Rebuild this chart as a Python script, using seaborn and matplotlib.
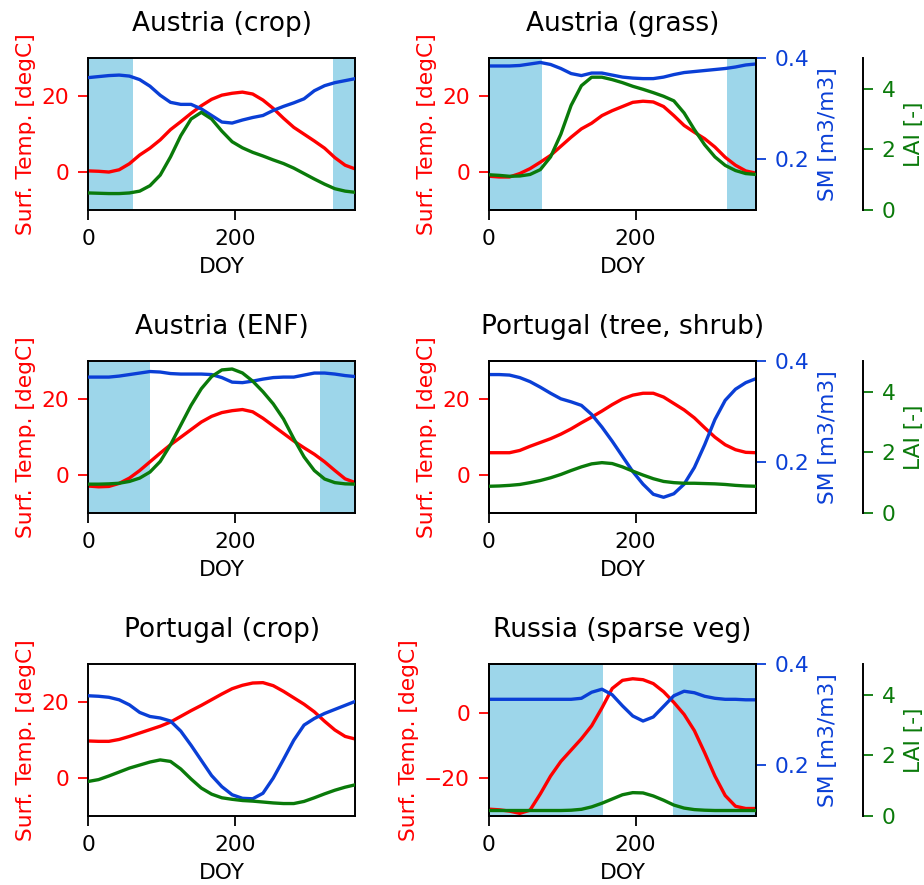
import matplotlib
matplotlib.use("Agg")
import matplotlib.pyplot as plt
import seaborn as sns
import pandas as pd

# ---------------- data ----------------
DOY = list(range(0, 365, 14))  # 0, 14, ..., 364

titles = ["Austria (crop)", "Austria (grass)", "Austria (ENF)",
          "Portugal (tree, shrub)", "Portugal (crop)", "Russia (sparse veg)"]

# Surface temperature [degC]
temp_at_crop = [0.3, 0.2, 0.0, 0.6, 2.2, 4.5, 6.3, 8.5, 11.2, 13.3, 15.5, 17.5, 19.2, 20.3,
                20.8, 21.1, 20.6, 19.0, 16.8, 14.2, 11.8, 10.0, 8.2, 6.3, 3.8, 1.8, 0.8]
temp_at_grass = [-1.1, -1.3, -1.3, -0.4, 0.9, 2.6, 4.4, 6.8, 9.2, 11.4, 12.9, 14.9, 16.2, 17.3,
                 18.4, 18.7, 18.5, 17.3, 14.9, 12.3, 10.5, 8.8, 6.6, 3.9, 1.8, 0.3, -0.3]
temp_at_enf = [-2.9, -3.1, -3.0, -2.2, -0.8, 1.2, 3.5, 5.8, 8.0, 10.0, 12.0, 14.0, 15.5, 16.5,
               17.0, 17.3, 16.7, 15.0, 13.0, 11.0, 9.0, 7.2, 5.5, 3.5, 1.2, -1.0, -2.0]
temp_pt_tree = [5.9, 5.9, 5.9, 6.5, 7.6, 8.6, 9.6, 10.8, 12.2, 13.8, 15.3, 16.9, 18.6, 20.1,
                21.1, 21.6, 21.6, 20.6, 18.9, 17.2, 15.1, 12.5, 10.0, 8.0, 6.7, 6.0, 5.9]
temp_pt_crop = [9.8, 9.7, 9.7, 10.2, 11.0, 11.9, 12.8, 13.7, 14.8, 16.3, 17.8, 19.2, 20.7, 22.2,
                23.6, 24.5, 25.1, 25.2, 24.4, 22.9, 21.2, 19.5, 17.5, 15.0, 12.7, 11.0, 10.3]
temp_ru_sparse = [-29.7, -29.9, -30.3, -31.0, -30.0, -25.0, -19.5, -15.0, -11.5, -8.0, -4.0, 1.5,
                  7.5, 10.0, 10.5, 10.2, 9.0, 6.5, 3.2, -0.5, -5.5, -12.3, -19.5, -25.5, -28.8,
                  -29.5, -29.5]

# Soil moisture [m3/m3]
sm_at_crop = [0.362, 0.364, 0.366, 0.367, 0.365, 0.358, 0.345, 0.327, 0.313, 0.309, 0.309, 0.300,
              0.287, 0.274, 0.272, 0.278, 0.283, 0.287, 0.297, 0.305, 0.312, 0.320, 0.336, 0.346,
              0.352, 0.356, 0.360]
sm_at_grass = [0.385, 0.385, 0.385, 0.386, 0.389, 0.392, 0.388, 0.380, 0.370, 0.366, 0.371, 0.371,
               0.367, 0.363, 0.361, 0.360, 0.360, 0.363, 0.368, 0.372, 0.374, 0.376, 0.378,
               0.380, 0.383, 0.387, 0.389]
sm_at_enf = [0.369, 0.369, 0.369, 0.371, 0.374, 0.377, 0.380, 0.379, 0.376, 0.375, 0.375, 0.375,
             0.374, 0.368, 0.359, 0.358, 0.361, 0.365, 0.368, 0.369, 0.369, 0.373, 0.377, 0.377,
             0.375, 0.372, 0.370]
sm_pt_tree = [0.374, 0.374, 0.373, 0.368, 0.360, 0.349, 0.337, 0.326, 0.320, 0.313, 0.295, 0.270,
              0.242, 0.212, 0.182, 0.157, 0.137, 0.131, 0.138, 0.157, 0.190, 0.235, 0.285, 0.323,
              0.345, 0.358, 0.366]
sm_pt_crop = [0.338, 0.337, 0.335, 0.330, 0.320, 0.305, 0.297, 0.294, 0.288, 0.268, 0.240, 0.210,
              0.180, 0.158, 0.142, 0.135, 0.134, 0.145, 0.175, 0.212, 0.250, 0.280, 0.293, 0.303,
              0.311, 0.319, 0.327]
sm_ru_sparse = [0.331, 0.331, 0.331, 0.331, 0.331, 0.331, 0.331, 0.331, 0.331, 0.333, 0.345, 0.351,
                0.340, 0.318, 0.298, 0.288, 0.296, 0.317, 0.338, 0.347, 0.344, 0.337, 0.333,
                0.331, 0.331, 0.330, 0.330]

# Leaf area index [-]
lai_at_crop = [0.56, 0.55, 0.54, 0.54, 0.56, 0.62, 0.80, 1.15, 1.75, 2.45, 3.00, 3.22, 3.00, 2.60,
               2.25, 2.05, 1.90, 1.78, 1.65, 1.53, 1.38, 1.20, 1.02, 0.85, 0.70, 0.62, 0.58]
lai_at_grass = [1.16, 1.14, 1.11, 1.12, 1.17, 1.33, 1.75, 2.50, 3.45, 4.10, 4.38, 4.38, 4.30, 4.20,
                4.08, 3.98, 3.87, 3.75, 3.60, 3.20, 2.65, 2.15, 1.75, 1.47, 1.30, 1.20, 1.17]
lai_at_enf = [0.95, 0.95, 0.96, 0.98, 1.04, 1.15, 1.35, 1.70, 2.25, 2.90, 3.55, 4.10, 4.50, 4.72,
              4.75, 4.62, 4.35, 4.00, 3.60, 3.10, 2.45, 1.85, 1.40, 1.12, 1.00, 0.96, 0.95]
lai_pt_tree = [0.88, 0.89, 0.91, 0.94, 1.00, 1.07, 1.16, 1.27, 1.40, 1.52, 1.62, 1.66, 1.63, 1.52,
               1.38, 1.25, 1.13, 1.04, 1.00, 0.98, 0.98, 0.97, 0.96, 0.94, 0.91, 0.89, 0.88]
lai_pt_crop = [1.14, 1.20, 1.32, 1.45, 1.58, 1.68, 1.78, 1.85, 1.80, 1.55, 1.22, 0.92, 0.72, 0.60,
               0.55, 0.51, 0.49, 0.46, 0.43, 0.41, 0.41, 0.48, 0.60, 0.73, 0.85, 0.95, 1.03]
lai_ru_sparse = [0.18, 0.18, 0.18, 0.18, 0.18, 0.18, 0.18, 0.18, 0.19, 0.22, 0.30, 0.42, 0.56, 0.70,
                 0.77, 0.76, 0.66, 0.52, 0.36, 0.26, 0.21, 0.19, 0.18, 0.18, 0.18, 0.18, 0.18]

# Snow periods (DOY ranges shaded)
snow_at_crop = [(0, 61), (333, 364)]
snow_at_grass = [(0, 72), (325, 364)]
snow_at_enf = [(0, 84), (316, 364)]
snow_pt_tree = []
snow_pt_crop = []
snow_ru_sparse = [(0, 155), (251, 364)]

temps = [temp_at_crop, temp_at_grass, temp_at_enf, temp_pt_tree, temp_pt_crop, temp_ru_sparse]
sms = [sm_at_crop, sm_at_grass, sm_at_enf, sm_pt_tree, sm_pt_crop, sm_ru_sparse]
lais = [lai_at_crop, lai_at_grass, lai_at_enf, lai_pt_tree, lai_pt_crop, lai_ru_sparse]
snows = [snow_at_crop, snow_at_grass, snow_at_enf, snow_pt_tree, snow_pt_crop, snow_ru_sparse]
temp_lims = [(-10, 30)] * 5 + [(-31.8, 14.9)]
temp_ticks = [[0, 20]] * 5 + [[-20, 0]]

# ---------------- style ----------------
sns.set_theme(style="ticks")
FS = 15.7
plt.rcParams.update({
    "font.family": ["DejaVu Sans"],
    "font.size": FS,
    "text.color": "black",
    "axes.labelcolor": "black",
    "axes.edgecolor": "black",
    "xtick.color": "black",
    "ytick.color": "black",
    "axes.linewidth": 1.4,
    "xtick.major.size": 7, "ytick.major.size": 7,
    "xtick.major.width": 1.3, "ytick.major.width": 1.3,
    "xtick.major.pad": 6.5, "ytick.major.pad": 6.5,
    "xtick.labelsize": FS, "ytick.labelsize": FS,
    "axes.labelsize": FS,
})

RED = "#ff0000"
BLUE = "#0a3fd6"
GREEN = "#0a7a0a"
SNOW = "#9dd6ea"
LW = 2.4

fig, axes = plt.subplots(3, 2, figsize=(9.24, 8.85), dpi=100)
fig.subplots_adjust(left=0.0956, right=0.8182, top=0.934, bottom=0.078,
                    wspace=0.5, hspace=1.0)

for i, ax in enumerate(axes.flat):
    right_col = (i % 2 == 1)
    for (a, b) in snows[i]:
        ax.axvspan(a, b, color=SNOW, lw=0, zorder=0)

    df = pd.DataFrame({"DOY": DOY, "temp": temps[i], "sm": sms[i], "lai": lais[i]})
    sns.lineplot(data=df, x="DOY", y="temp", ax=ax, color=RED, lw=LW)
    ax.set_xlim(0, 364)
    ax.set_ylim(*temp_lims[i])
    ax.set_xticks([0, 200])
    ax.set_yticks(temp_ticks[i])
    ax.tick_params(axis="y", colors=RED)
    ax.set_ylabel("Surf. Temp. [degC]", color=RED, labelpad=4)
    ax.set_xlabel("DOY", labelpad=6)
    ax.set_title(titles[i], fontsize=19, pad=20, color="black")

    ax2 = ax.twinx()
    sns.lineplot(data=df, x="DOY", y="sm", ax=ax2, color=BLUE, lw=LW)
    ax2.set_ylim(0.1, 0.4)
    ax2.set_xlim(0, 364)

    ax3 = ax.twinx()
    sns.lineplot(data=df, x="DOY", y="lai", ax=ax3, color=GREEN, lw=LW)
    ax3.set_ylim(0, 5)
    ax3.set_xlim(0, 364)

    if right_col:
        ax2.set_yticks([0.2, 0.4])
        ax2.tick_params(axis="y", colors=BLUE)
        ax2.set_ylabel("SM [m3/m3]", color=BLUE, labelpad=6)
        ax3.spines["right"].set_position(("axes", 1.40))
        for k in ["top", "left", "bottom"]:
            ax3.spines[k].set_visible(False)
        ax3.spines["right"].set_color("black")
        ax3.set_yticks([0, 2, 4])
        ax3.tick_params(axis="y", colors=GREEN)
        ax3.set_ylabel("LAI [-]", color=GREEN, labelpad=6)
    else:
        ax2.set_axis_off()
        ax3.set_axis_off()

fig.savefig("out.png", dpi=100)
